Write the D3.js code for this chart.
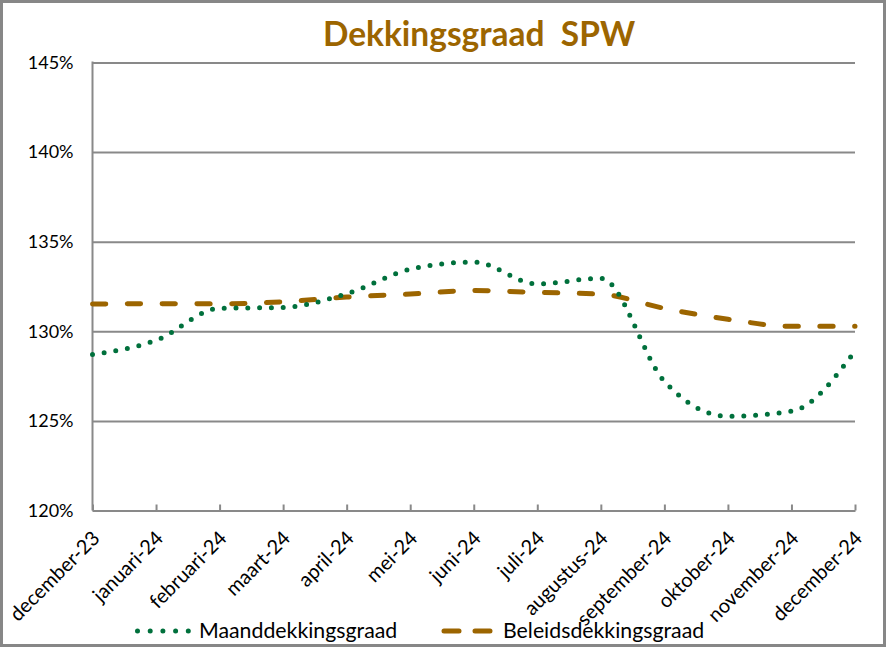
<!DOCTYPE html>
<html>
<head>
<meta charset="utf-8">
<script src="https://cdn.jsdelivr.net/npm/d3@7"></script>
<style>
  html, body { margin: 0; padding: 0; background: #fff; }
  svg { display: block; }
  text { font-family: Lato, "Open Sans", sans-serif; }
</style>
</head>
<body>
<svg id="chart" width="886" height="647"></svg>
<script>
const months = ["december-23","januari-24","februari-24","maart-24","april-24","mei-24",
  "juni-24","juli-24","augustus-24","september-24","oktober-24","november-24","december-24"];
const maanddekkingsgraad = [128.7,129.5,131.28,131.33,132.1,133.46,133.86,132.64,132.96,127.21,125.26,125.54,128.9];
const beleidsdekkingsgraad = [131.52,131.54,131.53,131.65,131.91,132.08,132.27,132.17,132.07,131.28,130.67,130.28,130.28];
const yTicks = [120,125,130,135,140,145];
const seriesNames = ["Maanddekkingsgraad","Beleidsdekkingsgraad"];
const titleText = "Dekkingsgraad  SPW";

const W = 886, H = 647;
const pLeft = 92.5, pRight = 855, pTop = 62.5, pBottom = 510.5;
const grey = "#898989", green = "#00703C", gold = "#9C6500";

const svg = d3.select("#chart");
svg.append("rect").attr("x",1.5).attr("y",1.5).attr("width",W-3).attr("height",H-3)
  .attr("fill","#fff").attr("stroke","#878787").attr("stroke-width",3);

const x = d3.scalePoint().domain(months).range([pLeft,pRight]);
const y = d3.scaleLinear().domain([120,145]).range([pBottom,pTop]);

// title
svg.append("text").attr("x",479).attr("y",46).attr("text-anchor","middle")
  .style("white-space","pre").attr("xml:space","preserve")
  .attr("font-size",33.5).attr("font-weight","bold").attr("fill",gold).text(titleText);

// y axis with gridlines
const yAxis = svg.append("g").attr("transform",`translate(${pLeft},0)`)
  .call(d3.axisLeft(y).tickValues(yTicks).tickSize(-(pRight-pLeft)).tickPadding(19)
    .tickFormat(d => d + "%"));
yAxis.select(".domain").remove();
yAxis.selectAll(".tick line").attr("stroke",grey).attr("stroke-width",2);
yAxis.selectAll(".tick text").attr("font-size",18).attr("fill","#000")
  .attr("font-family","Lato, sans-serif");
svg.append("line").attr("x1",pLeft).attr("x2",pLeft).attr("y1",pTop-1).attr("y2",pBottom)
  .attr("stroke",grey).attr("stroke-width",2);

// x axis
const xAxis = svg.append("g").attr("transform",`translate(0,${pBottom})`)
  .call(d3.axisBottom(x).tickSizeInner(-6).tickSizeOuter(0));
xAxis.select(".domain").attr("stroke",grey).attr("stroke-width",2);
xAxis.selectAll(".tick line").attr("stroke",grey).attr("stroke-width",2);
xAxis.selectAll(".tick text")
  .attr("font-size",20).attr("fill","#000").attr("font-family","Lato, sans-serif")
  .attr("text-anchor","end").attr("y",0).attr("dy","0.35em")
  .attr("transform","translate(3,24) rotate(-45)");

// lines
const curve = d3.curveMonotoneX;
const line = d3.line().x((d,i) => x(months[i])).y(d => y(d)).curve(curve);

svg.append("path").datum(beleidsdekkingsgraad).attr("d",line)
  .attr("fill","none").attr("stroke",gold).attr("stroke-width",5)
  .attr("stroke-linecap","round").attr("stroke-dasharray","13.3 21.5");

svg.append("path").datum(maanddekkingsgraad).attr("d",line)
  .attr("fill","none").attr("stroke",green).attr("stroke-width",5)
  .attr("stroke-linecap","round").attr("stroke-dasharray","0 11.8");

// legend
const ly = 631;
svg.append("line").attr("x1",137.5).attr("x2",189).attr("y1",ly).attr("y2",ly)
  .attr("stroke",green).attr("stroke-width",5).attr("stroke-linecap","round")
  .attr("stroke-dasharray","0 12.7");
svg.append("text").attr("x",199).attr("y",ly).attr("dy","0.35em")
  .attr("font-size",21.3).attr("fill","#000").text(seriesNames[0]);
svg.append("line").attr("x1",444).attr("x2",491).attr("y1",ly).attr("y2",ly)
  .attr("stroke",gold).attr("stroke-width",5).attr("stroke-linecap","round")
  .attr("stroke-dasharray","15 16");
svg.append("text").attr("x",503).attr("y",ly).attr("dy","0.35em")
  .attr("font-size",21.3).attr("fill","#000").text(seriesNames[1]);
</script>
</body>
</html>
